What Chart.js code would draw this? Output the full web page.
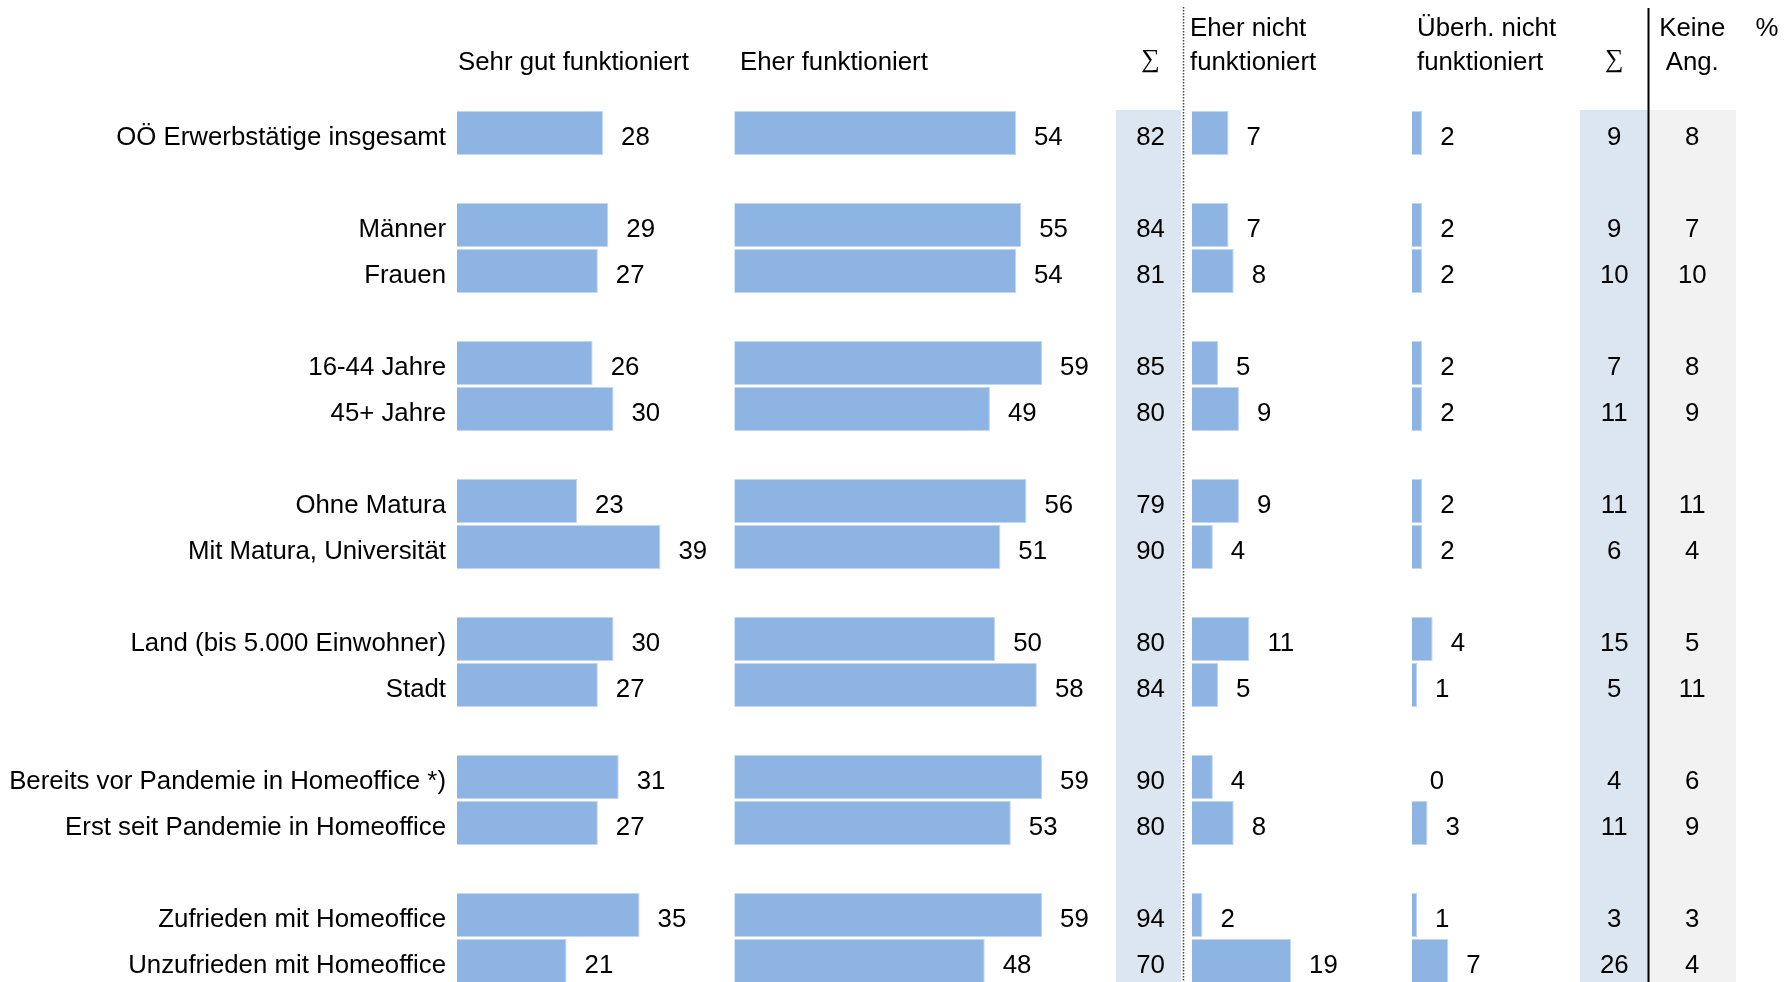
<!DOCTYPE html>
<html lang="de">
<head>
<meta charset="utf-8">
<title>Homeoffice – funktioniert</title>
<script src="https://cdn.jsdelivr.net/npm/chart.js@4.4.1/dist/chart.umd.min.js"></script>
<style>
    html, body { margin: 0; padding: 0; background: #fff; width: 1791px; height: 982px; overflow: hidden; }
    #wrap { width: 1791px; height: 982px; overflow: hidden; }
    canvas { display: block; }
</style>
</head>
<body>
<div id="wrap"><canvas id="homeofficeChart" width="1791" height="986"></canvas></div>
<script>
// Zeilen ('' / null = Abstand zwischen den Gruppen)
const rowLabels = [
    'OÖ Erwerbstätige insgesamt', '',
    'Männer', 'Frauen', '',
    '16-44 Jahre', '45+ Jahre', '',
    'Ohne Matura', 'Mit Matura, Universität', '',
    'Land (bis 5.000 Einwohner)', 'Stadt', '',
    'Bereits vor Pandemie in Homeoffice *)', 'Erst seit Pandemie in Homeoffice', '',
    'Zufrieden mit Homeoffice', 'Unzufrieden mit Homeoffice'
];

const sehrGut     = [28, null, 29, 27, null, 26, 30, null, 23, 39, null, 30, 27, null, 31, 27, null, 35, 21];
const eherGut     = [54, null, 55, 54, null, 59, 49, null, 56, 51, null, 50, 58, null, 59, 53, null, 59, 48];
const summeGut    = [82, null, 84, 81, null, 85, 80, null, 79, 90, null, 80, 84, null, 90, 80, null, 94, 70];
const eherNicht   = [7, null, 7, 8, null, 5, 9, null, 9, 4, null, 11, 5, null, 4, 8, null, 2, 19];
const garNicht    = [2, null, 2, 2, null, 2, 2, null, 2, 2, null, 4, 1, null, 0, 3, null, 1, 7];
const summeNicht  = [9, null, 9, 10, null, 7, 11, null, 11, 6, null, 15, 5, null, 4, 11, null, 3, 26];
const keineAngabe = [8, null, 7, 10, null, 8, 9, null, 11, 4, null, 5, 11, null, 6, 9, null, 3, 4];

const FONT = '"Liberation Sans", Arial, sans-serif';
const SERIF = '"Liberation Serif", "Times New Roman", serif';
const FONT_SIZE = 25.8;
const TEXT_DROP = 5;        // Text sitzt etwas unter der Zeilenmitte
const BAR_COLOR = '#8eb4e3';
const SUM_BG = '#dce6f1';
const NA_BG = '#f2f2f2';
const PX_PER_UNIT = 5.217;   // gleiche Skala fuer alle Balkenspalten

// Spalten nebeneinander: jede bekommt eine eigene x-Achse im selben Stack
const columns = [
    { id: 'xSehrGut', kind: 'bar', data: sehrGut, title: ['', 'Sehr gut funktioniert'], left: 457, right: 734.3, zero: 457, titleX: 458 },
    { id: 'xEherGut', kind: 'bar', data: eherGut, title: ['', 'Eher funktioniert'], left: 734.3, right: 1116, zero: 734.3, titleX: 740 },
    { id: 'xSummeGut', kind: 'text', data: summeGut, title: ['', '∑'], left: 1116, right: 1181, fill: SUM_BG, textShift: 2 },
    { id: 'xEherNicht', kind: 'bar', data: eherNicht, title: ['Eher nicht', 'funktioniert'], left: 1181, right: 1411.8, zero: 1192, titleX: 1190 },
    { id: 'xGarNicht', kind: 'bar', data: garNicht, title: ['Überh. nicht', 'funktioniert'], left: 1411.8, right: 1580, zero: 1411.8, titleX: 1417 },
    { id: 'xSummeNicht', kind: 'text', data: summeNicht, title: ['', '∑'], left: 1580, right: 1648.5, fill: SUM_BG, textShift: 0 },
    { id: 'xKeineAngabe', kind: 'text', data: keineAngabe, title: ['Keine', 'Ang.'], left: 1648.5, right: 1736, fill: NA_BG, textShift: 0 }
];

const LINE_Y = [36, 70];   // Grundlinien der zweizeiligen Kopfzeile

/**
 * Build the scales: category rows on y, one hidden linear axis per column
 */
function buildScales() {
    const scales = {
        y: {
            type: 'category',
            grid: { display: false, drawTicks: false },
            border: { display: false },
            ticks: {
                color: '#000',
                font: { family: FONT, size: FONT_SIZE },
                padding: 11,
                labelOffset: TEXT_DROP,
                autoSkip: false
            },
            afterFit: function(scale) {
                scale.width = 457;
                // no extra room for half labels at top/bottom
                scale.paddingTop = 0;
                scale.paddingBottom = 0;
            }
        }
    };

    columns.forEach(col => {
        const width = col.right - col.left;
        const axis = {
            type: 'linear',
            position: 'bottom',
            display: false,
            stack: 'columns',
            stackWeight: width
        };
        if (col.kind === 'bar') {
            axis.min = (col.left - col.zero) / PX_PER_UNIT;
            axis.max = (col.right - col.zero) / PX_PER_UNIT;
        } else {
            axis.min = 0;
            axis.max = 1;
        }
        scales[col.id] = axis;
    });
    return scales;
}

/**
 * Shading, value labels, column titles and divider lines
 */
const tablePlugin = {
    id: 'tablePlugin',
    beforeDatasetsDraw(chart) {
        const { ctx, chartArea } = chart;
        ctx.save();
        columns.filter(c => c.fill).forEach(col => {
            const s = chart.scales[col.id];
            ctx.fillStyle = col.fill;
            ctx.fillRect(s.left, chartArea.top, s.right - s.left, chartArea.bottom - chartArea.top);
        });
        ctx.restore();
    },
    afterDatasetsDraw(chart) {
        const { ctx, chartArea } = chart;
        const yScale = chart.scales.y;
        const font = FONT_SIZE + 'px ' + FONT;
        ctx.save();
        ctx.fillStyle = '#000';
        ctx.font = font;
        ctx.textBaseline = 'middle';

        // Werte neben den Balken
        chart.data.datasets.forEach((ds, di) => {
            const meta = chart.getDatasetMeta(di);
            ctx.textAlign = 'left';
            ds.data.forEach((v, i) => {
                if (v === null) return;
                const bar = meta.data[i];
                ctx.fillText(String(v), bar.x + 18, bar.y + TEXT_DROP);
            });
        });

        // Textspalten (Summen, keine Angabe)
        columns.filter(c => c.kind === 'text').forEach(col => {
            const s = chart.scales[col.id];
            const x = s.getPixelForValue(0.5) + col.textShift;
            ctx.textAlign = 'center';
            col.data.forEach((v, i) => {
                if (v === null) return;
                ctx.fillText(String(v), x, yScale.getPixelForValue(i) + TEXT_DROP);
            });
        });

        // Kopfzeile
        ctx.textBaseline = 'alphabetic';
        columns.forEach(col => {
            const s = chart.scales[col.id];
            col.title.forEach((line, li) => {
                if (!line) return;
                if (line === '∑') {
                    ctx.font = '26px ' + SERIF;
                    ctx.textAlign = 'center';
                    ctx.fillText(line, s.getPixelForValue(0.5) + (col.textShift || 0), LINE_Y[li] - 3);
                    ctx.font = font;
                } else if (col.kind === 'text') {
                    ctx.textAlign = 'center';
                    ctx.fillText(line, s.getPixelForValue(0.5), LINE_Y[li]);
                } else {
                    ctx.textAlign = 'left';
                    ctx.fillText(line, col.titleX, LINE_Y[li]);
                }
            });
        });
        ctx.textAlign = 'center';
        ctx.fillText('%', 1767, LINE_Y[0]);

        // Trennlinien
        const dotted = chart.scales.xSummeGut.right + 2.5;
        ctx.strokeStyle = '#444';
        ctx.lineWidth = 1.5;
        ctx.setLineDash([1.5, 1.5]);
        ctx.beginPath();
        ctx.moveTo(dotted, 7);
        ctx.lineTo(dotted, chartArea.bottom);
        ctx.stroke();

        const solid = chart.scales.xSummeNicht.right;
        ctx.setLineDash([]);
        ctx.strokeStyle = '#000';
        ctx.lineWidth = 2;
        ctx.beginPath();
        ctx.moveTo(solid, 8);
        ctx.lineTo(solid, chartArea.bottom);
        ctx.stroke();
        ctx.restore();
    }
};

function createChart() {
    const ctx = document.getElementById('homeofficeChart');

    const datasets = columns.filter(c => c.kind === 'bar').map(col => ({
        label: col.title.filter(Boolean).join(' '),
        data: col.data,
        xAxisID: col.id,
        yAxisID: 'y',
        backgroundColor: BAR_COLOR,
        borderColor: '#c3d6ef',
        borderWidth: 1
    }));

    new Chart(ctx, {
        type: 'bar',
        data: {
            labels: rowLabels,
            datasets: datasets
        },
        options: {
            indexAxis: 'y',
            responsive: false,
            animation: false,
            devicePixelRatio: 1,
            layout: {
                padding: { top: 110, right: 55, bottom: 2, left: 0 }
            },
            datasets: {
                bar: {
                    grouped: false,
                    categoryPercentage: 1,
                    barPercentage: 0.957
                }
            },
            scales: buildScales(),
            plugins: {
                legend: { display: false },
                tooltip: { enabled: false }
            }
        },
        plugins: [tablePlugin]
    });
}

document.addEventListener('DOMContentLoaded', createChart);
</script>
</body>
</html>
